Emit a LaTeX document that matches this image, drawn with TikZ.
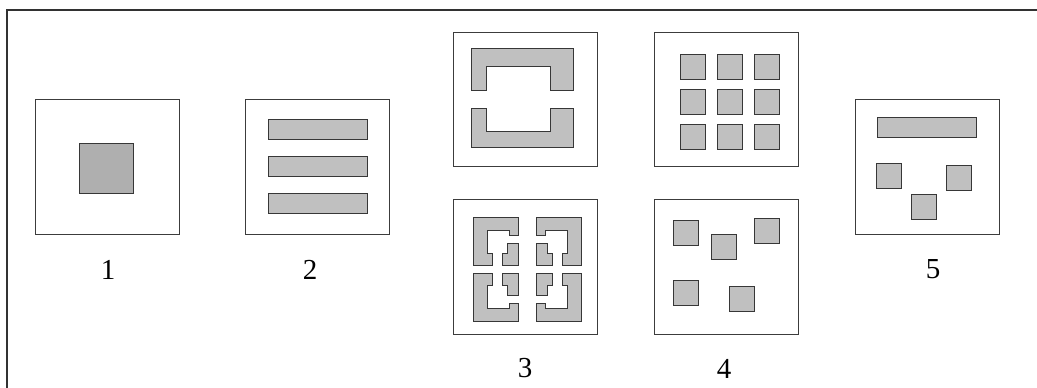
\documentclass[tikz,border=0pt]{standalone}
\usepackage{fontspec}
\setmainfont{Liberation Serif}
\definecolor{framec}{RGB}{50,50,50}
\definecolor{boxc}{RGB}{60,60,60}
\definecolor{partline}{RGB}{55,55,55}
\definecolor{partfill}{RGB}{192,192,192}
\definecolor{partfilld}{RGB}{175,175,175}
\begin{document}
\begin{tikzpicture}[x=1pt,y=-1pt,
  panel/.style={draw=boxc, line width=1pt},
  part/.style={draw=partline, fill=partfill, line width=1pt},
  lbl/.style={font=\fontsize{29}{30}\selectfont, text=black, inner sep=0pt}]
\useasboundingbox (0,0) rectangle (1037,388);
% outer frame
\draw[framec, line width=1.4pt] (7,388) -- (7,10) -- (1037,10);
% panel 1
\draw[panel] (35,99) rectangle (179,234);
\draw[part, fill=partfilld] (79,143) rectangle (133,193);
\node[lbl] (l1) at (108,270) {1};
% panel 2
\draw[panel] (245,99) rectangle (389,234);
\draw[part] (268,119) rectangle (367,139);
\draw[part] (268,156) rectangle (367,176);
\draw[part] (268,193) rectangle (367,213);
\node[lbl] (l2) at (310,270) {2};
% panel 3 top
\draw[panel] (453,32) rectangle (597,166);
\draw[part] (471,48) -- (573,48) -- (573,90) -- (550,90) -- (550,66) -- (486,66) -- (486,90) -- (471,90) -- cycle;
\draw[part] (471,108) -- (486,108) -- (486,131) -- (550,131) -- (550,108) -- (573,108) -- (573,147) -- (471,147) -- cycle;
% panel 3 bottom
\draw[panel] (453,199) rectangle (597,334);
\foreach \sx/\sy in {1/1,-1/1,1/-1,-1/-1}{
  \begin{scope}[shift={(527,269)}, xscale=\sx, yscale=\sy]
    \draw[part] (-54,-52) -- (-9,-52) -- (-9,-34) -- (-18,-34) -- (-18,-39) -- (-40,-39) -- (-40,-16) -- (-35,-16) -- (-35,-4) -- (-54,-4) -- cycle;
    \draw[part] (-20,-26) -- (-9,-26) -- (-9,-4) -- (-25,-4) -- (-25,-16) -- (-20,-16) -- cycle;
  \end{scope}
}
\node[lbl] (l3) at (525,368) {3};
% panel 4 top
\draw[panel] (654,32) rectangle (798,166);
\foreach \cx in {680,717,754}{
  \foreach \cy in {54,89,124}{
    \draw[part] (\cx,\cy) rectangle ++(25.5,25.5);
  }
}
% panel 4 bottom
\draw[panel] (654,199) rectangle (798,334);
\draw[part] (673,220) rectangle ++(25.5,25.5);
\draw[part] (711,234) rectangle ++(25.5,25.5);
\draw[part] (754,218) rectangle ++(25.5,25.5);
\draw[part] (673,280) rectangle ++(25.5,25.5);
\draw[part] (729,286) rectangle ++(25.5,25.5);
\node[lbl] (l4) at (724,369) {4};
% panel 5
\draw[panel] (855,99) rectangle (999,234);
\draw[part] (877,117) rectangle (976,137);
\draw[part] (876,163) rectangle ++(25.5,25.5);
\draw[part] (946,165) rectangle ++(25.5,25.5);
\draw[part] (911,194) rectangle ++(25.5,25.5);
\node[lbl] (l5) at (933,269) {5};
\end{tikzpicture}
\end{document}
